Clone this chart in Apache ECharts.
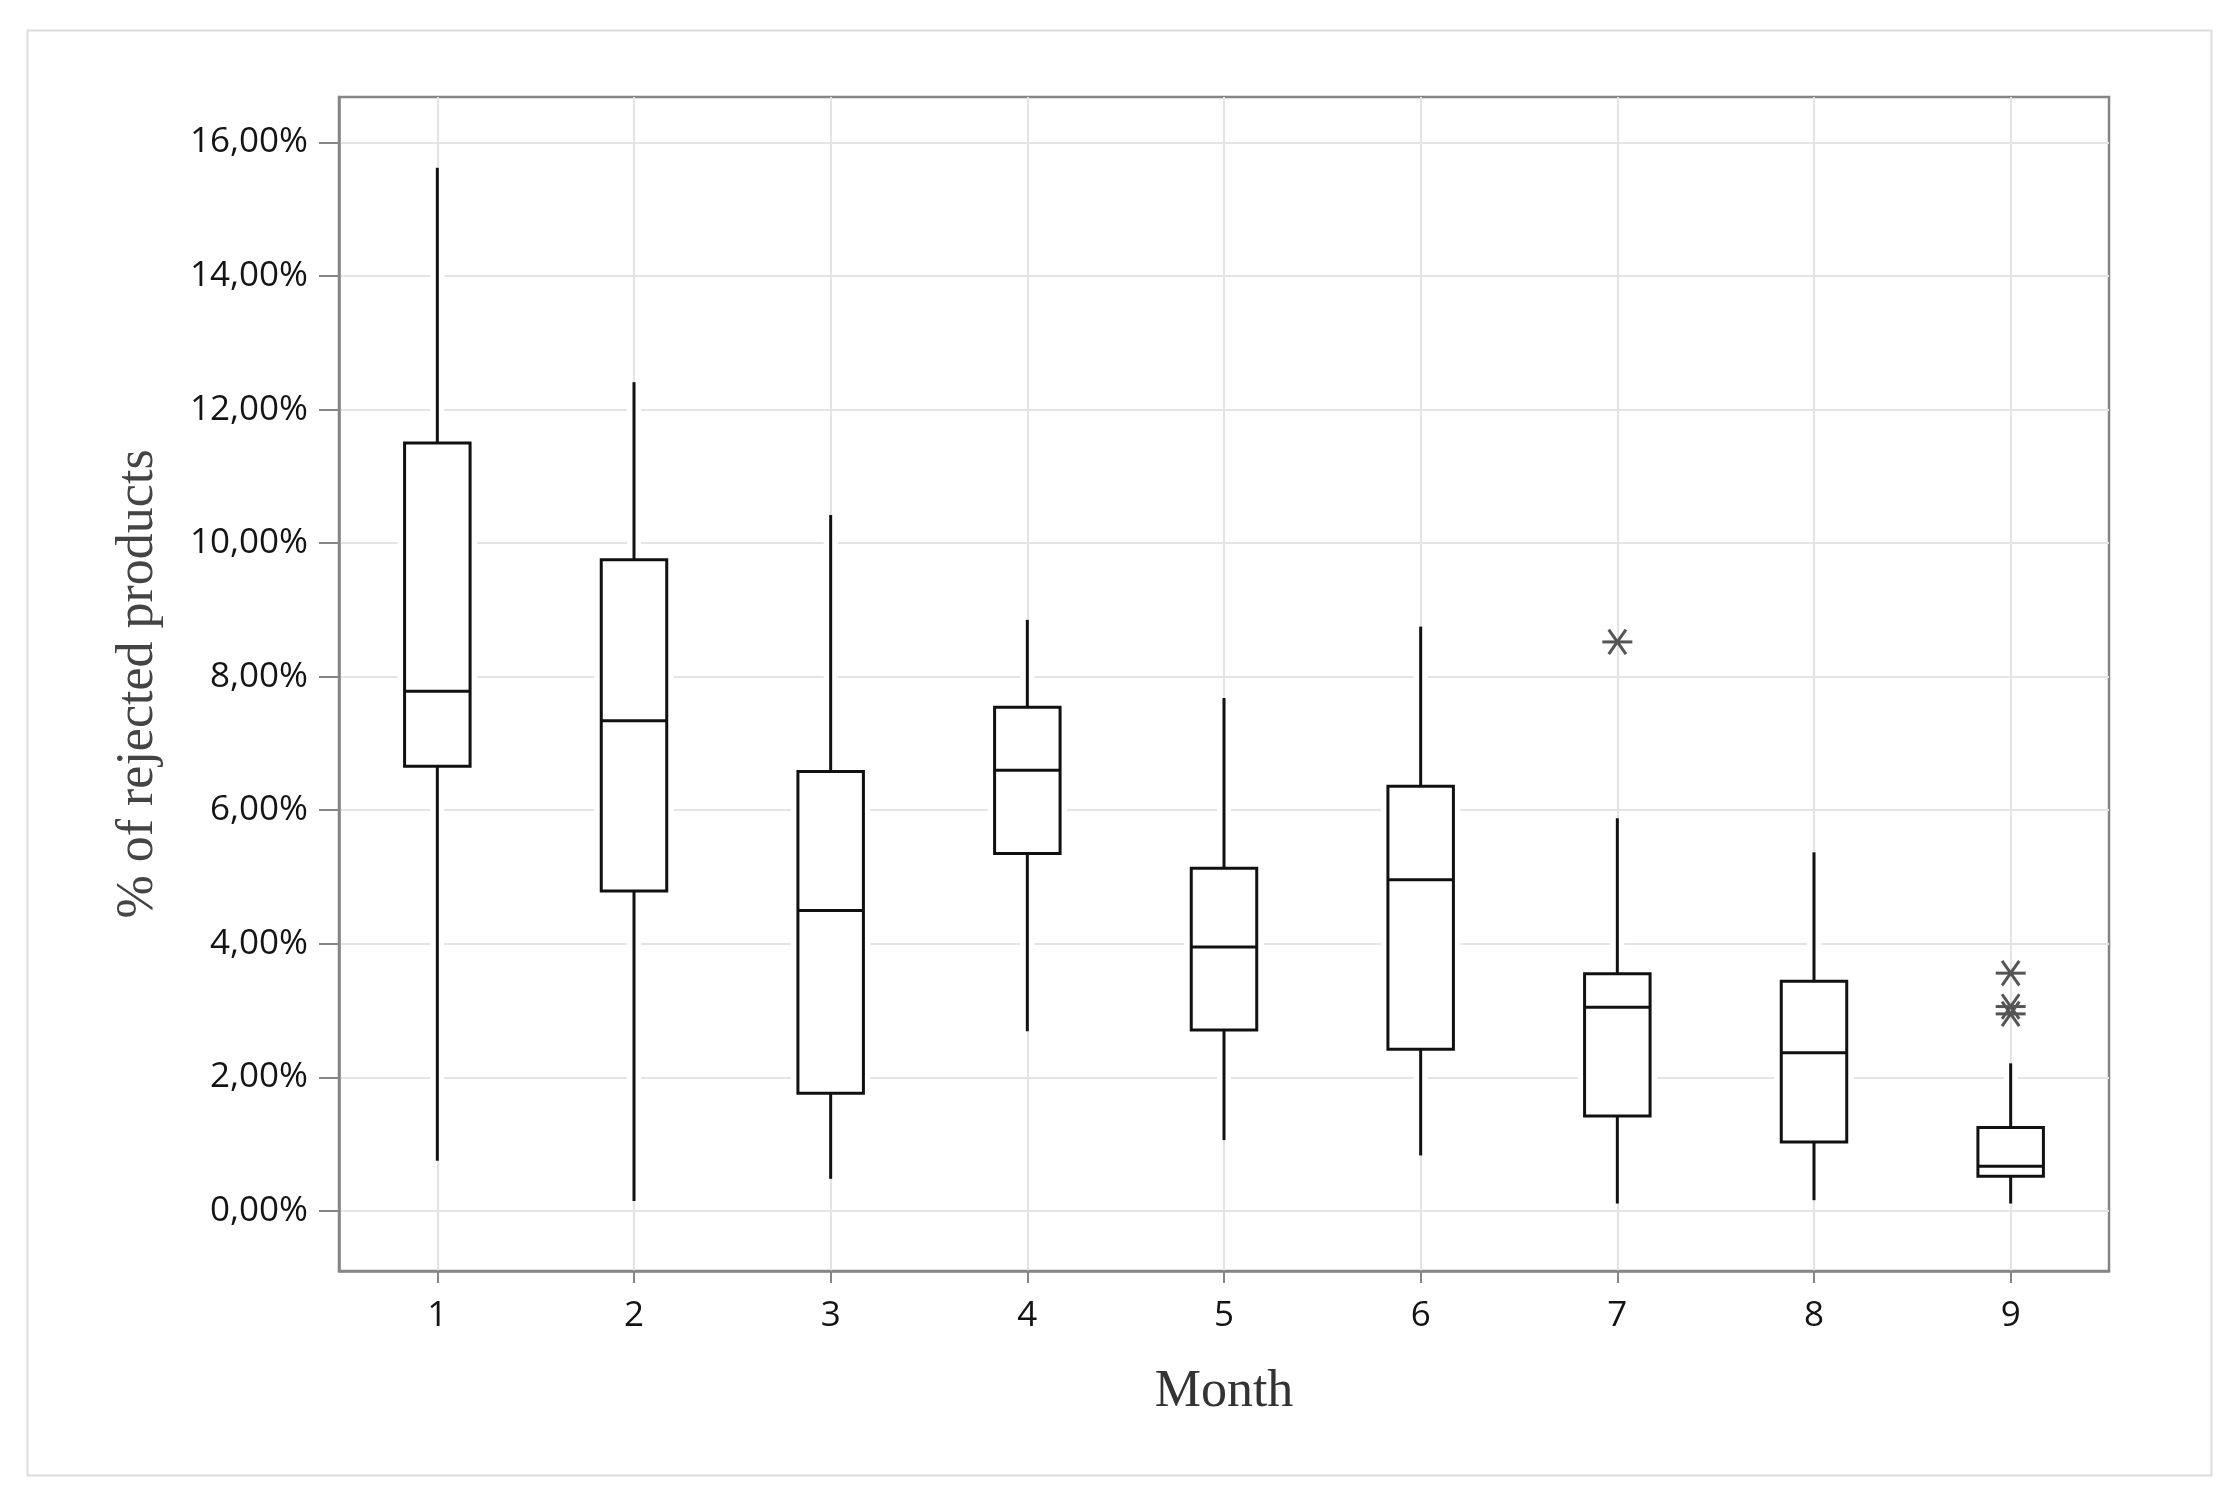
<!DOCTYPE html>
<html>
<head>
<meta charset="utf-8">
<script src="https://cdn.jsdelivr.net/npm/echarts@6/dist/echarts.min.js"></script>
<style>
  html, body { margin: 0; padding: 0; background: #fff; }
  #chart { width: 2236px; height: 1500px; }
</style>
</head>
<body>
<div id="chart"></div>
<script>
// ---- data (values in %) ----
const months      = [1, 2, 3, 4, 5, 6, 7, 8, 9];
const whiskerLow  = [0.75, 0.15, 0.48, 2.69, 1.06, 0.83, 0.11, 0.16, 0.11];
const quartile1   = [6.66, 4.79, 1.76, 5.35, 2.71, 2.42, 1.42, 1.03, 0.52];
const medians     = [7.78, 7.34, 4.50, 6.60, 3.95, 4.96, 3.05, 2.37, 0.67];
const quartile3   = [11.50, 9.75, 6.58, 7.54, 5.13, 6.36, 3.55, 3.44, 1.25];
const whiskerHigh = [15.62, 12.41, 10.42, 8.85, 7.68, 8.75, 5.88, 5.37, 2.21];
const outlierMonths = [7, 9, 9, 9];
const outlierValues = [8.52, 3.56, 3.06, 2.95];
const yTickValues = [0, 2, 4, 6, 8, 10, 12, 14, 16];
const xTickValues = [1, 2, 3, 4, 5, 6, 7, 8, 9];
const yAxisTitle = '% of rejected products';
const xAxisTitle = 'Month';

const boxData = months.map((m, i) => [m, whiskerLow[i], quartile1[i], medians[i], quartile3[i], whiskerHigh[i]]);
const outlierData = outlierMonths.map((m, i) => [m, outlierValues[i]]);

function renderBox(params, api) {
  const x = api.value(0);
  const pLo = api.coord([x, api.value(1)]);
  const pQ1 = api.coord([x, api.value(2)]);
  const pMd = api.coord([x, api.value(3)]);
  const pQ3 = api.coord([x, api.value(4)]);
  const pHi = api.coord([x, api.value(5)]);
  const bw = api.size([1, 0])[0] * 0.333;
  const cx = pLo[0];
  const halo = { stroke: '#ffffff', lineWidth: 14, fill: null };
  const ink = { stroke: '#111111', lineWidth: 3, fill: null };
  const rectShape = { x: cx - bw / 2, y: pQ3[1], width: bw, height: pQ1[1] - pQ3[1] };
  return {
    type: 'group',
    children: [
      { type: 'line', shape: { x1: cx, y1: pLo[1], x2: cx, y2: pQ1[1] }, style: halo },
      { type: 'line', shape: { x1: cx, y1: pQ3[1], x2: cx, y2: pHi[1] }, style: halo },
      { type: 'rect', shape: rectShape, style: { fill: '#ffffff', stroke: '#ffffff', lineWidth: 14 } },
      { type: 'line', shape: { x1: cx, y1: pLo[1], x2: cx, y2: pQ1[1] }, style: ink },
      { type: 'line', shape: { x1: cx, y1: pQ3[1], x2: cx, y2: pHi[1] }, style: ink },
      { type: 'rect', shape: rectShape, style: { fill: null, stroke: '#111111', lineWidth: 3 } },
      { type: 'line', shape: { x1: cx - bw / 2, y1: pMd[1], x2: cx + bw / 2, y2: pMd[1] }, style: ink }
    ]
  };
}

function renderStar(params, api) {
  const p = api.coord([api.value(0), api.value(1)]);
  const r = 15;
  const angles = [0, 55, 125];
  return {
    type: 'group',
    children: angles.map(a => {
      const rad = a * Math.PI / 180;
      const dx = r * Math.cos(rad), dy = r * Math.sin(rad);
      return {
        type: 'line',
        shape: { x1: p[0] - dx, y1: p[1] - dy, x2: p[0] + dx, y2: p[1] + dy },
        style: { stroke: '#555555', lineWidth: 3 }
      };
    })
  };
}

const chart = echarts.init(document.getElementById('chart'), null, { renderer: 'canvas' });
chart.setOption({
  backgroundColor: '#ffffff',
  animation: false,
  graphic: [{
    type: 'rect',
    left: 25, top: 28,
    shape: { width: 2184, height: 1445 },
    style: { fill: null, stroke: '#dcdcdc', lineWidth: 2 },
    z: -10
  }],
  grid: {
    left: 339, right: 127, top: 97, bottom: 229,
    show: true, borderColor: '#858585', borderWidth: 2.5,
    backgroundColor: 'transparent',
    containLabel: false,
    outerBoundsMode: 'none'
  },
  xAxis: {
    type: 'value',
    position: 'bottom',
    min: 0.5, max: 9.5,
    name: xAxisTitle,
    nameLocation: 'middle',
    nameGap: 95,
    nameTextStyle: { fontFamily: 'Liberation Serif', fontSize: 52, color: '#333333' },
    axisLine: { show: true, onZero: false, lineStyle: { color: '#858585', width: 2.5 } },
    axisTick: { show: true, inside: false, length: 12, customValues: xTickValues, lineStyle: { color: '#858585', width: 2 } },
    axisLabel: { customValues: xTickValues, margin: 28, fontFamily: 'Open Sans', fontSize: 35, color: '#141414' },
    splitLine: { show: true, lineStyle: { color: '#e4e4e4', width: 2 } }
  },
  yAxis: {
    type: 'value',
    position: 'left',
    min: -0.9, max: 16.68,
    name: yAxisTitle,
    nameLocation: 'middle',
    nameGap: 175,
    nameRotate: 90,
    nameTextStyle: { fontFamily: 'Liberation Serif', fontSize: 52, color: '#444444' },
    axisLine: { show: true, onZero: false, lineStyle: { color: '#858585', width: 2.5 } },
    axisTick: { show: true, inside: false, length: 20, customValues: yTickValues, lineStyle: { color: '#858585', width: 2 } },
    axisLabel: {
      customValues: yTickValues, margin: 31,
      fontFamily: 'Open Sans', fontSize: 35, color: '#141414',
      formatter: v => v.toFixed(2).replace('.', ',') + '%'
    },
    splitLine: { show: true, lineStyle: { color: '#e4e4e4', width: 2 } }
  },
  series: [
    {
      type: 'custom',
      name: 'box',
      renderItem: renderBox,
      encode: { x: 0, y: [1, 2, 3, 4, 5] },
      data: boxData,
      z: 3
    },
    {
      type: 'custom',
      name: 'outliers',
      renderItem: renderStar,
      encode: { x: 0, y: 1 },
      data: outlierData,
      z: 4
    }
  ]
});
</script>
</body>
</html>
